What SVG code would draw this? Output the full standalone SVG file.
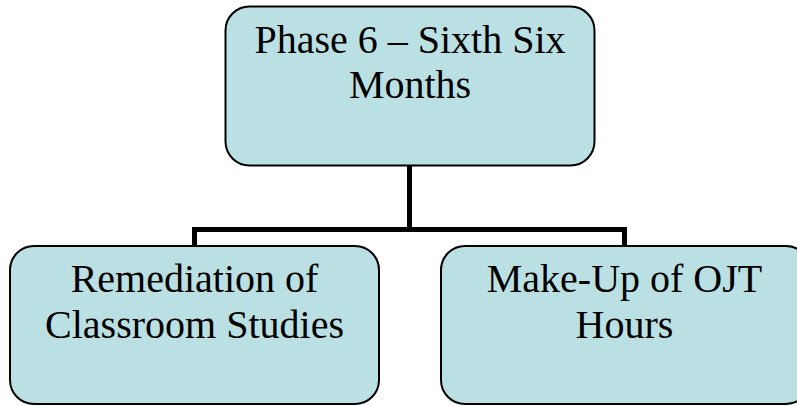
<svg xmlns="http://www.w3.org/2000/svg" width="797" height="406" viewBox="0 0 797 406">
<style>
.box{fill:#BBE0E3;stroke:#000;stroke-width:2}
.lbl{font-family:"Liberation Serif","Times New Roman",serif;font-size:40px;fill:#000;text-anchor:middle}
.conn{fill:none;stroke:#000;stroke-width:5;stroke-linejoin:miter}
</style>
<rect width="797" height="406" fill="#fff"/>
<g id="connectors">
<path class="conn" d="M409.5 166 V229.5 M194.5 247 V229.5 H624.5 V247"/>
</g>
<g id="phase6">
<rect class="box" x="225.5" y="6.5" width="369" height="159" rx="24" ry="24"/>
<text class="lbl" x="410" y="52.5">Phase 6 – Sixth Six</text>
<text class="lbl" x="410" y="97.5">Months</text>
</g>
<g id="remediation">
<rect class="box" x="10" y="246" width="369" height="158" rx="24" ry="24"/>
<text class="lbl" x="194.5" y="291.5">Remediation of</text>
<text class="lbl" x="194.5" y="337.5">Classroom Studies</text>
</g>
<g id="makeup">
<rect class="box" x="441" y="246" width="369" height="158" rx="24" ry="24"/>
<text class="lbl" x="624.5" y="291.5">Make-Up of OJT</text>
<text class="lbl" x="624.5" y="337.5">Hours</text>
</g>
</svg>
